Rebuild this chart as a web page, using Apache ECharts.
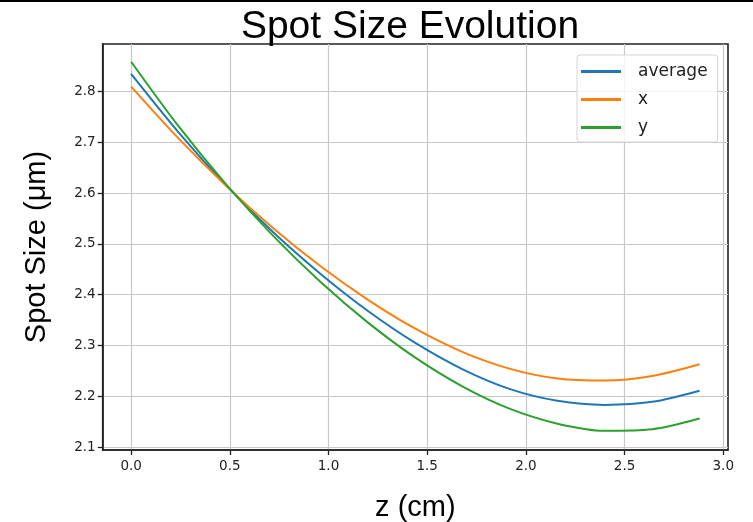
<!DOCTYPE html>
<html>
<head>
<meta charset="utf-8">
<script src="https://cdn.jsdelivr.net/npm/echarts@6/dist/echarts.min.js"></script>
<style>html,body{margin:0;padding:0;background:#fff;}#c{width:753px;height:522px;}</style>
</head>
<body>
<div id="c"></div>
<script>
const zValues = [0, 0.24, 0.48, 0.72, 0.96, 1.20, 1.44, 1.68, 1.92, 2.16, 2.40, 2.64, 2.88];
const averageValues = [2.835, 2.720, 2.616, 2.523, 2.441, 2.368, 2.305, 2.253, 2.214, 2.191, 2.183, 2.189, 2.211];
const xValues = [2.810, 2.708, 2.615, 2.531, 2.456, 2.390, 2.333, 2.287, 2.254, 2.235, 2.231, 2.240, 2.263];
const yValues = [2.859, 2.732, 2.618, 2.516, 2.425, 2.345, 2.276, 2.219, 2.175, 2.146, 2.132, 2.135, 2.156];
const xTicks = [0, 0.5, 1.0, 1.5, 2.0, 2.5, 3.0];
const yTicks = [2.1, 2.2, 2.3, 2.4, 2.5, 2.6, 2.7, 2.8];
const seriesNames = ['average', 'x', 'y'];
const seriesColors = ['#1f77b4', '#ff7f0e', '#2ca02c'];

const toPairs = (vals) => zValues.map((z, i) => [z, vals[i]]);
const allVals = [averageValues, xValues, yValues];

const chart = echarts.init(document.getElementById('c'));
chart.setOption({
  animation: false,
  backgroundColor: '#fff',
  title: {
    text: 'Spot Size Evolution',
    left: 405, top: 3, textAlign: 'center',
    textStyle: { fontFamily: 'Liberation Sans', fontSize: 39, fontWeight: 'normal', color: '#000' }
  },
  graphic: [{ type: 'rect', shape: { x: 0, y: 0, width: 753, height: 2 }, style: { fill: '#000' } }],
  legend: {
    data: seriesNames,
    orient: 'vertical',
    left: 577, top: 55,
    width: 141,
    padding: [7, 10, 5, 4],
    itemGap: 9,
    itemWidth: 40, itemHeight: 3,
    icon: 'rect',
    backgroundColor: 'rgba(255,255,255,0.8)',
    borderColor: '#d5d5d5', borderWidth: 1, borderRadius: 3,
    textStyle: { fontFamily: 'DejaVu Sans', fontSize: 17, lineHeight: 19, color: '#222', padding: [0, 0, 0, 12] }
  },
  grid: {
    left: 102.7, right: 25, top: 44, bottom: 72,
    outerBoundsMode: 'none',
    containLabel: false,
    show: true, borderColor: '#222', borderWidth: 1.6
  },
  xAxis: {
    type: 'value', min: -0.144, max: 3.024,
    name: 'z (cm)', nameLocation: 'middle', nameGap: 43,
    nameTextStyle: { fontFamily: 'Liberation Sans', fontSize: 29, color: '#000' },
    axisLine: { show: true, onZero: false, lineStyle: { color: '#222', width: 1.6 } },
    axisTick: { show: true, customValues: xTicks, length: 5, lineStyle: { color: '#222', width: 1.3 } },
    axisLabel: { customValues: xTicks, formatter: v => v.toFixed(1), fontFamily: 'DejaVu Sans', fontSize: 13.5, color: '#222', margin: 9 },
    splitLine: { show: true, lineStyle: { color: '#c8c8c8', width: 1.2 } }
  },
  yAxis: {
    type: 'value', min: 2.0941, max: 2.894,
    name: 'Spot Size (μm)', nameLocation: 'middle', nameGap: 51,
    nameTextStyle: { fontFamily: 'Liberation Sans', fontSize: 29, color: '#000' },
    axisLine: { show: true, onZero: false, lineStyle: { color: '#222', width: 1.6 } },
    axisTick: { show: true, customValues: yTicks, length: 5, lineStyle: { color: '#222', width: 1.3 } },
    axisLabel: { customValues: yTicks, formatter: v => v.toFixed(1), fontFamily: 'DejaVu Sans', fontSize: 13.5, color: '#222', margin: 7 },
    splitLine: { show: true, lineStyle: { color: '#c8c8c8', width: 1.2 } }
  },
  series: seriesNames.map((n, i) => ({
    name: n, type: 'line', data: toPairs(allVals[i]), smooth: 0.3,
    showSymbol: false, symbol: 'none',
    lineStyle: { color: seriesColors[i], width: 2 },
    itemStyle: { color: seriesColors[i] }
  }))
});
</script>
</body>
</html>
